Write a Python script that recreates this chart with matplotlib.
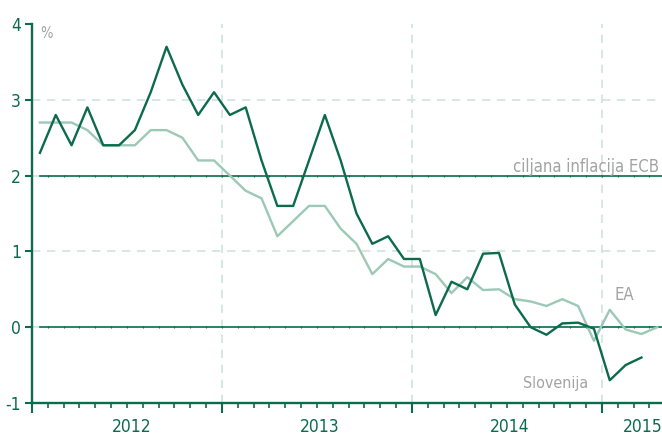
import matplotlib
matplotlib.use("Agg")
import matplotlib.pyplot as plt
import numpy as np

# monthly inflation, Jan 2012 onward (%)
slovenija = [2.3, 2.8, 2.4, 2.9, 2.4, 2.4, 2.6, 3.1, 3.7, 3.2, 2.8, 3.1,
             2.8, 2.9, 2.2, 1.6, 1.6, 2.2, 2.8, 2.2, 1.5, 1.1, 1.2, 0.9,
             0.9, 0.16, 0.6, 0.5, 0.97, 0.98, 0.3, 0.0, -0.1, 0.05, 0.06, -0.02,
             -0.7, -0.5, -0.4]
ea = [2.7, 2.7, 2.7, 2.6, 2.4, 2.4, 2.4, 2.6, 2.6, 2.5, 2.2, 2.2,
      2.0, 1.8, 1.7, 1.2, 1.4, 1.6, 1.6, 1.3, 1.1, 0.7, 0.9, 0.8,
      0.8, 0.7, 0.45, 0.66, 0.49, 0.5, 0.37, 0.34, 0.28, 0.37, 0.28, -0.18,
      0.23, -0.03, -0.09, 0.0]
years = ["2012", "2013", "2014", "2015"]
yticks = [-1, 0, 1, 2, 3, 4]

dark = "#0b6b4c"
light = "#9cc8b6"
grid = "#cfe4db"
grey = "#a3a3a3"

plt.rcParams['font.family'] = ['DejaVu Sans']
plt.rcParams['font.stretch'] = 'condensed'

fig = plt.figure(figsize=(6.62, 4.36), dpi=100)
ax = fig.add_axes([32 / 662, 33 / 436, 630 / 662, 379 / 436])
xmax = 39.8
ax.set_xlim(0, xmax)
ax.set_ylim(-1, 4)

# dashed grid
for y in [1, 3]:
    ax.axhline(y, color=grid, lw=1.2, ls=(0, (5, 4)), zorder=1)
for k in range(1, len(years)):
    ax.axvline(12 * k, color=grid, lw=1.2, ls=(0, (5, 4)), zorder=1)

# reference lines at 0 and 2 with small month marks
for y in [0, 2]:
    ax.plot([0, 0.5], [y, y], color=grid, lw=1.2, zorder=1)
    ax.plot([0.5, xmax], [y, y], color=dark, lw=1.2, zorder=2)
    ax.plot(np.arange(1, 40), [y] * 39, ls="none", marker="|", ms=2,
            mew=0.8, color=dark, zorder=2)

x_ea = np.arange(len(ea)) + 0.5
x_si = np.arange(len(slovenija)) + 0.5
ax.plot(x_ea, ea, color=light, lw=1.7, zorder=3)
ax.plot(x_si, slovenija, color=dark, lw=1.7, zorder=4)

# spines
for s in ["top", "right"]:
    ax.spines[s].set_visible(False)
for s in ["left", "bottom"]:
    ax.spines[s].set_color(dark)
    ax.spines[s].set_linewidth(1.7)

ax.set_yticks(yticks)
ax.set_yticklabels([str(v) for v in yticks])
ax.tick_params(axis="y", colors=dark, labelcolor=dark, labelsize=12.5,
               length=5, width=1.5, pad=3)
ax.set_xticks(np.arange(0, 40, 12))
ax.set_xticklabels([])
ax.set_xticks(np.arange(0, 40), minor=True)
ax.tick_params(axis="x", which="major", colors=dark, length=7, width=1.5)
ax.tick_params(axis="x", which="minor", colors=dark, length=3.5, width=1.2)

label_pos = [6.3, 18.2, 30.2, 38.6]
for xp, yr in zip(label_pos, years):
    ax.text(xp, -1.32, yr, ha="center", va="center", color=dark, fontsize=12.5)

ax.text(0.55, 3.88, "%", color=grey, fontsize=10.5, ha="left", va="center")
ax.text(39.6, 2.12, "ciljana inflacija ECB", color=grey, fontsize=12,
        ha="right", va="center")
ax.text(37.4, 0.42, "EA", color=grey, fontsize=12, ha="center", va="center")
ax.text(33.1, -0.74, "Slovenija", color=grey, fontsize=11.5, ha="center",
        va="center")

fig.savefig("out.png", dpi=100)
